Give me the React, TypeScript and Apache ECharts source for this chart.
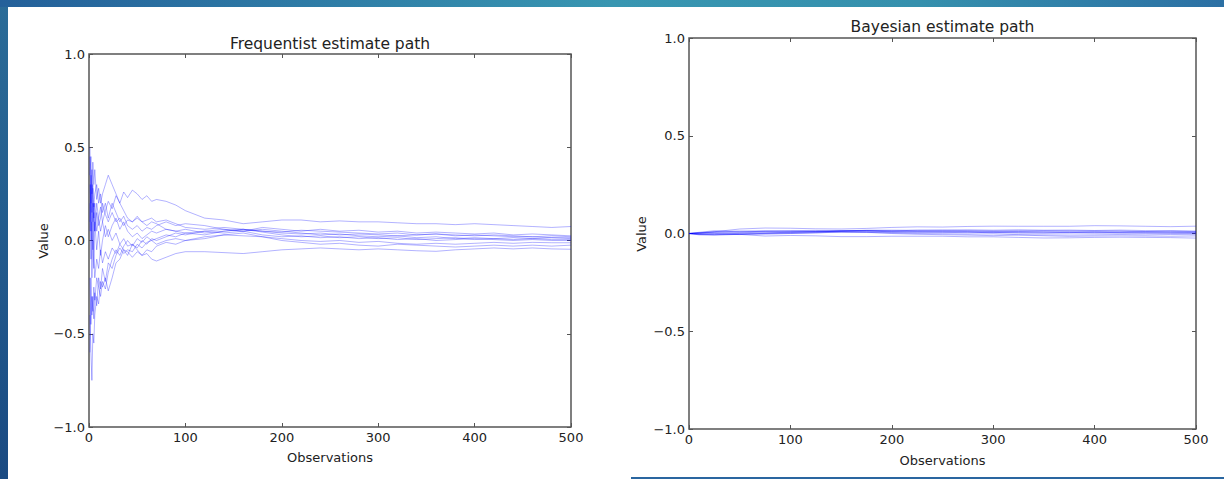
import React, { useEffect, useRef } from "react";
import * as echarts from "echarts";

const OBS_FREQ = [1, 2, 3, 4, 5, 6, 8, 10, 12, 14, 17, 20, 24, 28, 32, 36, 40, 45, 50, 55, 60, 65, 70, 80, 90, 100, 120, 140, 160, 180, 200, 220, 240, 260, 280, 300, 320, 340, 360, 380, 400, 420, 440, 460, 480, 500];
const OBS_BAYES = [0, 10, 25, 50, 75, 100, 125, 150, 175, 200, 225, 250, 275, 300, 325, 350, 375, 400, 425, 450, 475, 500];

const X_TICKS = [0, 100, 200, 300, 400, 500];
const Y_TICKS = [-1.0, -0.5, 0.0, 0.5, 1.0];

// Frequentist estimate paths
const freq0 = [0.10, 0.35, 0.15, 0.28, 0.12, 0.20, 0.05, 0.12, 0.18, 0.10, 0.16, 0.21, 0.17, 0.24, 0.20, 0.26, 0.23, 0.27, 0.25, 0.22, 0.24, 0.21, 0.22, 0.21, 0.19, 0.16, 0.12, 0.11, 0.09, 0.10, 0.11, 0.11, 0.10, 0.105, 0.10, 0.10, 0.095, 0.09, 0.09, 0.085, 0.09, 0.085, 0.08, 0.075, 0.07, 0.075];
const freq1 = [0.30, 0.05, 0.25, 0.42, 0.30, 0.38, 0.22, 0.28, 0.20, 0.25, 0.30, 0.35, 0.30, 0.25, 0.20, 0.16, 0.12, 0.10, 0.12, 0.10, 0.08, 0.10, 0.09, 0.06, 0.05, 0.06, 0.04, 0.05, 0.06, 0.05, 0.04, 0.035, 0.04, 0.03, 0.035, 0.03, 0.025, 0.03, 0.035, 0.03, 0.025, 0.03, 0.025, 0.02, 0.025, 0.02];
const freq2 = [0.50, 0.20, 0.38, 0.10, 0.20, 0.05, 0.15, 0.08, 0.12, 0.20, 0.14, 0.10, 0.15, 0.10, 0.12, 0.08, 0.11, 0.10, 0.13, 0.10, 0.11, 0.12, 0.10, 0.11, 0.09, 0.07, 0.06, 0.07, 0.06, 0.05, 0.045, 0.055, 0.05, 0.045, 0.04, 0.035, 0.04, 0.03, 0.035, 0.025, 0.03, 0.025, 0.02, 0.02, 0.015, 0.015];
const freq3 = [0.20, -0.10, 0.10, -0.05, 0.15, 0.05, 0.20, 0.12, 0.05, 0.10, 0.02, 0.06, 0.00, 0.04, -0.02, 0.01, -0.03, -0.02, -0.05, -0.08, -0.07, -0.10, -0.11, -0.09, -0.07, -0.06, -0.06, -0.065, -0.07, -0.06, -0.05, -0.045, -0.04, -0.045, -0.05, -0.045, -0.05, -0.055, -0.058, -0.05, -0.045, -0.04, -0.045, -0.04, -0.045, -0.047];
const freq4 = [-0.40, -0.60, -0.75, -0.50, -0.55, -0.40, -0.30, -0.34, -0.22, -0.25, -0.20, -0.27, -0.20, -0.12, -0.10, -0.05, -0.08, -0.02, -0.04, 0.00, -0.02, 0.01, 0.00, 0.02, 0.04, 0.03, 0.05, 0.04, 0.05, 0.03, 0.02, 0.025, 0.015, 0.02, 0.01, 0.015, 0.005, 0.01, 0.00, 0.005, 0.01, 0.005, 0.00, 0.005, 0.00, 0.00];
const freq5 = [-0.60, -0.20, -0.40, -0.30, -0.42, -0.28, -0.35, -0.20, -0.26, -0.15, -0.22, -0.12, -0.15, -0.08, -0.04, -0.07, -0.05, -0.06, -0.02, -0.04, -0.01, 0.00, -0.02, 0.00, 0.01, 0.00, 0.02, 0.03, 0.025, 0.02, 0.01, 0.00, -0.005, 0.00, -0.01, -0.005, -0.015, -0.02, -0.015, -0.02, -0.015, -0.01, -0.015, -0.01, -0.012, -0.012];
const freq6 = [0.05, 0.30, 0.00, 0.20, -0.10, -0.20, -0.10, -0.15, -0.05, -0.12, -0.06, -0.10, -0.04, -0.07, -0.02, -0.05, -0.06, -0.09, -0.06, -0.08, -0.05, -0.06, -0.03, -0.01, -0.02, 0.00, 0.01, 0.03, 0.04, 0.02, 0.00, -0.01, -0.02, -0.015, -0.025, -0.03, -0.02, -0.025, -0.03, -0.035, -0.03, -0.025, -0.03, -0.025, -0.03, -0.025];
const freq7 = [0.45, 0.10, -0.20, 0.00, -0.15, 0.10, -0.05, 0.05, -0.08, 0.00, 0.08, 0.02, 0.08, 0.12, 0.06, 0.10, 0.05, 0.02, 0.04, 0.01, 0.03, 0.05, 0.04, 0.06, 0.05, 0.04, 0.05, 0.06, 0.05, 0.06, 0.05, 0.04, 0.03, 0.035, 0.025, 0.02, 0.025, 0.015, 0.02, 0.01, 0.015, 0.01, 0.005, 0.01, 0.005, 0.005];
const freq8 = [-0.20, -0.45, -0.30, -0.38, -0.25, -0.32, -0.20, -0.25, -0.30, -0.22, -0.26, -0.17, -0.10, -0.05, -0.08, -0.03, 0.00, -0.03, 0.01, -0.01, 0.02, 0.00, 0.01, 0.03, 0.02, 0.04, 0.03, 0.05, 0.06, 0.045, 0.03, 0.02, 0.025, 0.015, 0.02, 0.01, 0.015, 0.005, 0.01, 0.015, 0.005, 0.01, 0.015, 0.01, 0.015, 0.01];
const freq9 = [0.35, 0.45, 0.25, 0.30, 0.18, 0.25, 0.30, 0.20, 0.25, 0.15, 0.20, 0.12, 0.20, 0.15, 0.10, 0.13, 0.08, 0.06, 0.08, 0.05, 0.07, 0.06, 0.08, 0.10, 0.08, 0.09, 0.08, 0.06, 0.05, 0.07, 0.06, 0.05, 0.06, 0.05, 0.055, 0.045, 0.05, 0.04, 0.045, 0.04, 0.035, 0.04, 0.03, 0.035, 0.03, 0.025];

// Bayesian estimate paths
const bayes0 = [0, 0.002, 0.009, 0.023, 0.028, 0.027, 0.024, 0.023, 0.026, 0.031, 0.034, 0.033, 0.036, 0.0375, 0.037, 0.037, 0.037, 0.04, 0.039, 0.037, 0.035, 0.0375];
const bayes1 = [0, 0.006, 0.014, 0.011, 0.01, 0.01, 0.008, 0.013, 0.014, 0.011, 0.011, 0.012, 0.012, 0.011, 0.01, 0.013, 0.013, 0.011, 0.013, 0.01, 0.012, 0.01];
const bayes2 = [0, 0.002, 0.007, 0.012, 0.014, 0.012, 0.012, 0.015, 0.014, 0.013, 0.017, 0.016, 0.015, 0.013, 0.015, 0.013, 0.012, 0.013, 0.011, 0.009, 0.008, 0.0075];
const bayes3 = [0, 0.002, 0.0005, -0.0045, -0.013, -0.01, -0.012, -0.016, -0.016, -0.014, -0.014, -0.014, -0.017, -0.017, -0.02, -0.023, -0.022, -0.02, -0.019, -0.02, -0.021, -0.0235];
const bayes4 = [0, -0.007, -0.009, -0.004, 0.001, 0.005, 0.01, 0.01, 0.009, 0.006, 0.007, 0.006, 0.004, 0.006, 0.002, 0.002, 0.002, 0.004, 0.002, 0.001, 0.0005, 0];
const bayes5 = [0, -0.004, -0.006, -0.002, -0.001, 0, 0.004, 0.006, 0.005, 0.003, 0, -0.001, -0.003, -0.002, -0.006, -0.007, -0.008, -0.007, -0.005, -0.007, -0.005, -0.006];
const bayes6 = [0, -0.003, -0.0025, -0.0055, -0.0026, 0, 0.003, 0.008, 0.0065, 0, -0.004, -0.006, -0.008, -0.011, -0.008, -0.0115, -0.0146, -0.013, -0.012, -0.013, -0.014, -0.0125];
const bayes7 = [0, 0.001, 0.004, 0.0036, 0.007, 0.007, 0.0104, 0.0127, 0.015, 0.014, 0.012, 0.011, 0.01, 0.0075, 0.009, 0.0074, 0.005, 0.0067, 0.004, 0.0033, 0.003, 0.0025];
const bayes8 = [0, -0.005, -0.0043, 0.001, 0.0026, 0.0067, 0.007, 0.0127, 0.013, 0.0086, 0.0065, 0.0067, 0.0067, 0.00375, 0.005, 0.0033, 0.006, 0.0022, 0.005, 0.0066, 0.0068, 0.005];
const bayes9 = [0, 0.004, 0.009, 0.007, 0.012, 0.015, 0.0156, 0.0127, 0.017, 0.017, 0.0164, 0.018, 0.019, 0.017, 0.019, 0.017, 0.0176, 0.0155, 0.0175, 0.015, 0.015, 0.0125];

const FREQ_PATHS = [freq0, freq1, freq2, freq3, freq4, freq5, freq6, freq7, freq8, freq9];
const BAYES_PATHS = [bayes0, bayes1, bayes2, bayes3, bayes4, bayes5, bayes6, bayes7, bayes8, bayes9];

const FONT = "DejaVu Sans";
const TEXT = "#222222";
const FRAME = "#555555";

const fmtY = (v: number) => v.toFixed(1).replace("-", "\u2212");

function xAxes(gridIndex: number) {
  const base = {
    type: "value" as const,
    gridIndex,
    min: X_TICKS[0],
    max: X_TICKS[X_TICKS.length - 1],
    interval: 100,
    splitLine: { show: false },
    axisLine: { show: false, onZero: false },
    axisTick: { show: true, inside: true, length: 4, lineStyle: { color: FRAME, width: 1 } },
  };
  return [
    {
      ...base,
      position: "bottom",
      axisLabel: { show: true, margin: 4, fontSize: 13, color: TEXT, fontFamily: FONT },
    },
    { ...base, position: "top", axisLabel: { show: false } },
  ];
}

function yAxes(gridIndex: number) {
  const base = {
    type: "value" as const,
    gridIndex,
    min: Y_TICKS[0],
    max: Y_TICKS[Y_TICKS.length - 1],
    interval: 0.5,
    splitLine: { show: false },
    axisLine: { show: false, onZero: false },
    axisTick: { show: true, inside: true, length: 4, lineStyle: { color: FRAME, width: 1 } },
  };
  return [
    {
      ...base,
      position: "left",
      axisLabel: { show: true, margin: 4, fontSize: 13, color: TEXT, fontFamily: FONT, formatter: fmtY },
    },
    { ...base, position: "right", axisLabel: { show: false } },
  ];
}

function pathSeries(paths: number[][], obs: number[], axisIndex: number) {
  return paths.map((p, k) => ({
    type: "line",
    name: "path" + k,
    xAxisIndex: axisIndex,
    yAxisIndex: axisIndex,
    data: obs.map((x, i) => [x, p[i]]),
    showSymbol: false,
    symbol: "none",
    silent: true,
    lineStyle: { color: "#0000ff", width: 1, opacity: 0.3 },
  }));
}

function label(text: string, x: number, y: number, size: number, rotate = 0) {
  return {
    type: "text",
    x,
    y,
    rotation: rotate,
    style: {
      text,
      fill: TEXT,
      fontSize: size,
      fontFamily: FONT,
      align: "center",
      verticalAlign: "middle",
    },
  };
}

export default function App() {
  const ref = useRef<HTMLDivElement>(null);

  useEffect(() => {
    if (!ref.current) return;
    const chart = echarts.init(ref.current, null, { renderer: "svg" });
    const option = {
      animation: false,
      backgroundColor: "#ffffff",
      grid: [
        { left: 89, top: 54, width: 482, height: 373, show: true, borderColor: FRAME, borderWidth: 1.5, backgroundColor: "transparent" },
        { left: 689, top: 38, width: 507, height: 391, show: true, borderColor: FRAME, borderWidth: 1.5, backgroundColor: "transparent" },
      ],
      xAxis: [...xAxes(0), ...xAxes(1)],
      yAxis: [...yAxes(0), ...yAxes(1)],
      series: [...pathSeries(FREQ_PATHS, OBS_FREQ, 0), ...pathSeries(BAYES_PATHS, OBS_BAYES, 2)],
      graphic: [
        {
          type: "rect",
          shape: { x: 0, y: 0, width: 8, height: 479 },
          style: {
            fill: new echarts.graphic.LinearGradient(0, 0, 0, 1, [
              { offset: 0, color: "#2b6c98" },
              { offset: 1, color: "#1a4a82" },
            ]),
          },
          silent: true,
        },
        {
          type: "rect",
          shape: { x: 0, y: 0, width: 1224, height: 7 },
          style: {
            fill: new echarts.graphic.LinearGradient(0, 0, 1, 0, [
              { offset: 0, color: "#24609a" },
              { offset: 0.5, color: "#3896b1" },
              { offset: 0.75, color: "#3590ad" },
              { offset: 1, color: "#2c70a4" },
            ]),
          },
          silent: true,
        },
        {
          type: "rect",
          shape: { x: 631, y: 477, width: 593, height: 2 },
          style: { fill: "#2a66a0" },
          silent: true,
        },
        label("Frequentist estimate path", 330, 44, 15.5),
        label("Bayesian estimate path", 942.5, 27, 15.5),
        label("Observations", 330, 457, 13),
        label("Observations", 942.5, 460, 13),
        label("Value", 43, 241, 13, Math.PI / 2),
        label("Value", 641, 234, 13, Math.PI / 2),
      ],
    };
    chart.setOption(option as any);
    return () => chart.dispose();
  }, []);

  return (
    <div
      ref={ref}
      style={{ position: "fixed", left: 0, top: 0, width: 1224, height: 479, background: "#ffffff" }}
    />
  );
}
